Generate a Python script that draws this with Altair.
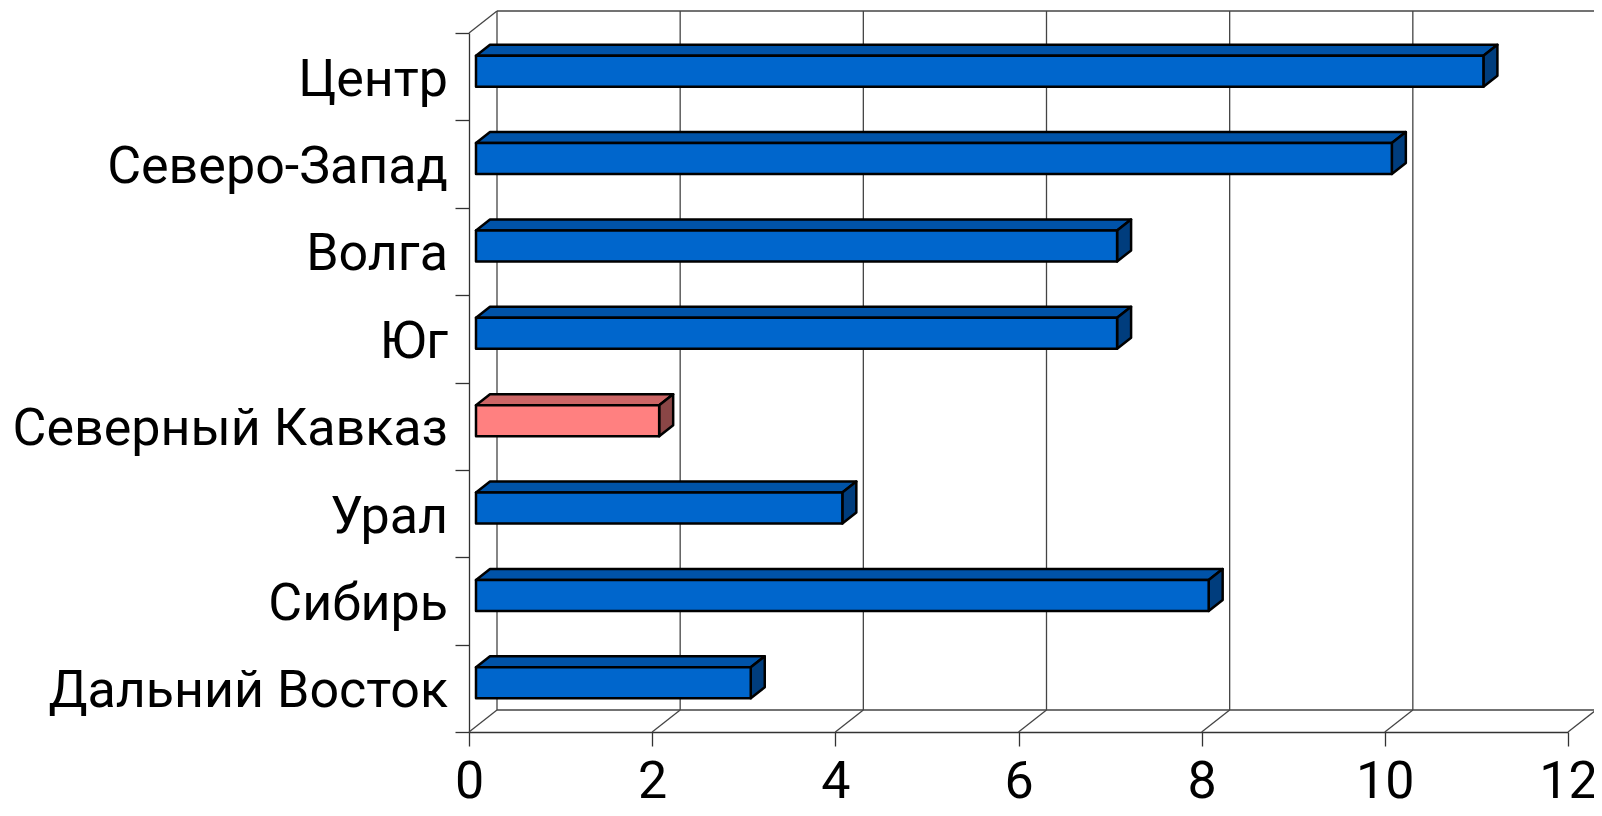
import altair as alt
import pandas as pd

regions = ["Центр", "Северо-Запад", "Волга", "Юг", "Северный Кавказ", "Урал", "Сибирь", "Дальний Восток"]
values = [11, 10, 7, 7, 2, 4, 8, 3]
highlight = "Северный Кавказ"
x_ticks = [0, 2, 4, 6, 8, 10, 12]

W, H = 1099, 699
XMAX, N = 12, len(regions)
kx, ky = XMAX / W, N / H
WX, WY = 28, 22          # back wall offset (px)
BX, BY = 7, 5.5          # bar front-face offset (px)
DX, DY = 14, 11          # bar depth (px)
HH = 15.5                # half bar height (px)

colors = {
    "normal": ("#0066CC", "#0053A8", "#003D7D"),
    "hl": ("#FF8080", "#CC6666", "#8A4646"),
}

front_rows, top_rows, side_rows, label_rows = [], [], [], []
for i, (r, v) in enumerate(zip(regions, values)):
    c = colors["hl" if r == highlight else "normal"]
    x0 = BX * kx
    x1 = v + BX * kx
    yc = N - 0.5 - i + BY * ky
    yb, yt = yc - HH * ky, yc + HH * ky
    ddx, ddy = DX * kx, DY * ky
    front_rows.append(dict(r=r, x0=x0, x1=x1, yb=yb, yt=yt, c=c[0]))
    for px, py, py2 in [(x0, yt, yt), (x0 + ddx, yt, yt + ddy),
                        (x1, yt, yt + ddy), (x1 + ddx, yt + ddy, yt + ddy)]:
        top_rows.append(dict(r=r, x=px, y=py, y2=py2, c=c[1]))
    for px, py, py2 in [(x1, yb, yt), (x1 + ddx, yb + ddy, yt + ddy)]:
        side_rows.append(dict(r=r, x=px, y=py, y2=py2, c=c[2]))
    label_rows.append(dict(r=r, x=0, y=N - 0.5 - i))

front = pd.DataFrame(front_rows)
top = pd.DataFrame(top_rows)
side = pd.DataFrame(side_rows)
labels = pd.DataFrame(label_rows)

# wall / floor lines
wx, wy = WX * kx, WY * ky
lines = []
for t in x_ticks:
    lines.append(dict(x=t + wx, x2=t + wx, y=wy, y2=N + wy))      # back gridlines
    lines.append(dict(x=t, x2=t + wx, y=0, y2=wy))                 # floor diagonals
lines.append(dict(x=wx, x2=XMAX + wx, y=wy, y2=wy))                # back floor edge
lines.append(dict(x=wx, x2=XMAX + wx, y=N + wy, y2=N + wy))        # back top edge
lines.append(dict(x=0, x2=wx, y=N, y2=N + wy))                     # left top diagonal
lines = pd.DataFrame(lines)

xs = alt.Scale(domain=[0, XMAX], nice=False, zero=False)
ys = alt.Scale(domain=[0, N], nice=False, zero=False)
FONT = "Roboto"

xaxis = alt.Axis(values=x_ticks, format="d", title=None, grid=False, tickSize=14, labelFontSize=52,
                 labelFont=FONT, labelColor="black", labelPadding=10, domainColor="#333333",
                 tickColor="#333333", domainWidth=1.3, tickWidth=1.3, labelFlush=False)
yaxis = alt.Axis(values=list(range(N + 1)), title=None, grid=False, labels=False, tickSize=14,
                 domainColor="#333333", tickColor="#333333", domainWidth=1.3, tickWidth=1.3)

base_lines = alt.Chart(lines).mark_rule(color="#444444", strokeWidth=1.3).encode(
    x=alt.X("x:Q", scale=xs, axis=xaxis), x2="x2:Q",
    y=alt.Y("y:Q", scale=ys, axis=yaxis), y2="y2:Q")

top_face = alt.Chart(top).mark_area(stroke="black", strokeWidth=2.5, strokeJoin="round",
                                    orient="vertical").encode(
    x=alt.X("x:Q", scale=xs), y=alt.Y("y:Q", scale=ys, stack=None), y2="y2:Q",
    detail="r:N", fill=alt.Fill("c:N", scale=None))

side_face = alt.Chart(side).mark_area(stroke="black", strokeWidth=2.5, strokeJoin="round",
                                      orient="vertical").encode(
    x=alt.X("x:Q", scale=xs), y=alt.Y("y:Q", scale=ys, stack=None), y2="y2:Q",
    detail="r:N", fill=alt.Fill("c:N", scale=None))

front_face = alt.Chart(front).mark_rect(stroke="black", strokeWidth=2.5, strokeJoin="round").encode(
    x=alt.X("x0:Q", scale=xs), x2="x1:Q", y=alt.Y("yb:Q", scale=ys), y2="yt:Q",
    fill=alt.Fill("c:N", scale=None))

text = alt.Chart(labels).mark_text(align="right", baseline="alphabetic", dx=-21, dy=19,
                                   font=FONT, fontSize=52, color="black").encode(
    x=alt.X("x:Q", scale=xs), y=alt.Y("y:Q", scale=ys), text="r:N")

chart = alt.layer(base_lines, top_face, side_face, front_face, text).properties(
    width=W, height=H,
    autosize=alt.AutoSizeParams(type="none"),
    padding={"left": 461, "top": 25, "right": 26, "bottom": 76},
    background="white",
).configure_view(stroke=None)

chart.save("out.html", embed_options={"renderer": "svg", "actions": False})
